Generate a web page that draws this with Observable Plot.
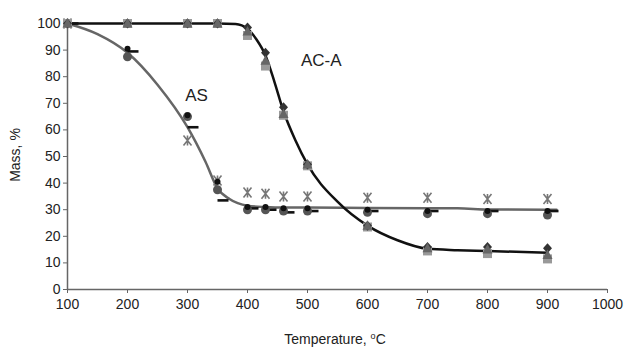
<!DOCTYPE html>
<html><head><meta charset="utf-8">
<script src="https://cdn.jsdelivr.net/npm/d3@7"></script>
<script src="https://cdn.jsdelivr.net/npm/@observablehq/plot@0.6"></script>
<style>body{margin:0;background:#fff;font-family:"Liberation Sans",Arial,sans-serif}</style>
</head><body><div id="chart"></div>
<script>
const temps = [100,200,300,350,400,430,460,500,600,700,800,900];
// AC-A markers
const acaDiamond = [100,100,100,100,98.5,89,68.5,47,24,16,16,15.5];
const acaSquare  = [100,100,100,100,95.5,84,65.5,46.5,23.5,14.5,13.5,11.5];
const acaTriangle= [100,100,100,100,97,86,66,47,24,15.5,15,13];
// AS markers
const asDot      = [100,90.5,65.5,40.5,31,31,30.5,30.5,30,29.5,29.5,29.5];
const asCircle   = [100,87.5,65,37.5,30,30,29.5,29.5,29,28.5,28.5,28];
const asDash     = [100,89.5,61,33.5,30.5,30,29,29.5,29.5,29.5,29.5,29.5];
const asStar     = [100,null,56,41,36.5,36,35,35,34.5,34.5,34,34];
// fitted curves
const acaCurveT = [100,200,300,350,380,400,415,430,445,460,480,500,550,600,650,700,750,800,900];
const acaCurveM = [100,100,100,100,99.8,98,94,88,78,67,56,47,33,24,18.5,15.3,14.8,14.5,13.8];
const asCurveT  = [100,150,200,250,300,330,350,370,400,430,460,500,600,700,750,800,900,915];
const asCurveM  = [100,96,89,77,61,48,38,34,31.5,31,30.8,30.8,30.6,30.5,30.5,30.1,30,30];
const xTicks = [100,200,300,400,500,600,700,800,900,1000];
const yTicks = [0,10,20,30,40,50,60,70,80,90,100];

const pts = (ys) => temps.map((t,i)=>({t, m: ys[i]})).filter(d=>d.m!=null);
const line = (ts, ms) => ts.map((t,i)=>({t, m: ms[i]}));

const dashSym = {draw(ctx, size){ ctx.moveTo(0,-1.3); ctx.lineTo(11,-1.3); ctx.lineTo(11,1.3); ctx.lineTo(0,1.3); ctx.closePath(); }};
const starSym = {draw(ctx, size){ const r=5; ctx.moveTo(-r*0.8,-r); ctx.lineTo(r*0.8,r); ctx.moveTo(r*0.8,-r); ctx.lineTo(-r*0.8,r); ctx.moveTo(0,-r); ctx.lineTo(0,r);}};
const circSym = {draw(ctx,size){ ctx.moveTo(4.5,0); ctx.arc(0,0,4.5,0,2*Math.PI); }};
const dotSym = {draw(ctx,size){ ctx.moveTo(3,0); ctx.arc(0,0,3,0,2*Math.PI); }};
const diaSym = {draw(ctx,size){ ctx.moveTo(0,-5); ctx.lineTo(4.5,0); ctx.lineTo(0,5); ctx.lineTo(-4.5,0); ctx.closePath(); }};
const sqSym = {draw(ctx,size){ ctx.rect(-4.5,-4.5,9,9); }};
const triSym = {draw(ctx,size){ ctx.moveTo(0,-5.5); ctx.lineTo(5,4); ctx.lineTo(-5,4); ctx.closePath(); }};

const chart = Plot.plot({
  width: 624, height: 347,
  marginLeft: 67, marginRight: 17, marginTop: 23, marginBottom: 58,
  style: {fontFamily: '"Liberation Sans", Arial, sans-serif', fontSize: "14px", color: "#222", background: "#fff"},
  x: {domain: [100,1000], label: null},
  y: {domain: [0,100], label: null},
  marks: [
    Plot.axisX({ticks: xTicks, tickFormat: d => String(d), tickSize: 4, tickPadding: 6, fontSize: 14, stroke: "#666"}),
    Plot.axisY({ticks: yTicks, tickFormat: d => String(d), tickSize: 4, tickPadding: 3, fontSize: 14, stroke: "#666"}),
    Plot.ruleX([100], {stroke: "#666", strokeWidth: 1.5}),
    Plot.ruleY([0], {stroke: "#666", strokeWidth: 1.5}),
    Plot.line(line(asCurveT, asCurveM), {x: "t", y: "m", stroke: "#666", strokeWidth: 2.5, curve: "monotone-x"}),
    Plot.line(line(acaCurveT, acaCurveM), {x: "t", y: "m", stroke: "#111", strokeWidth: 2.5, curve: "monotone-x"}),
    Plot.dot(pts(asStar), {x: "t", y: "m", symbol: starSym, stroke: "#777", strokeWidth: 1.6, fill: "none"}),
    Plot.dot(pts(asDash), {x: "t", y: "m", symbol: dashSym, fill: "#111", stroke: "none"}),
    Plot.dot(pts(asCircle), {x: "t", y: "m", symbol: circSym, fill: "#555", stroke: "none"}),
    Plot.dot(pts(asDot), {x: "t", y: "m", symbol: dotSym, fill: "#111", stroke: "none"}),
    Plot.dot(pts(acaSquare), {x: "t", y: "m", symbol: sqSym, fill: "#999", stroke: "none"}),
    Plot.dot(pts(acaDiamond), {x: "t", y: "m", symbol: diaSym, fill: "#333", stroke: "none"}),
    Plot.dot(pts(acaTriangle), {x: "t", y: "m", symbol: triSym, fill: "#666", stroke: "none"}),
    Plot.text([{t: 523, m: 86, s: "AC-A"}], {x: "t", y: "m", text: "s", fontSize: 17, fill: "#222", letterSpacing: "1.5px"}),
    Plot.text([{t: 315, m: 72.8, s: "AS"}], {x: "t", y: "m", text: "s", fontSize: 17, fill: "#222", letterSpacing: "1.5px"})
  ]
});
document.getElementById("chart").appendChild(chart);
const svg = d3.select(chart);
svg.append("text").attr("transform","translate(16,155) rotate(-90)").attr("text-anchor","middle")
  .attr("dominant-baseline","middle").attr("font-size",14).attr("fill","#222").text("Mass, %");
const xl = svg.append("text").attr("x",335).attr("y",344).attr("text-anchor","middle")
  .attr("font-size",14).attr("fill","#222");
xl.append("tspan").text("Temperature, ");
xl.append("tspan").attr("font-size",9).attr("dy",-5).text("o");
xl.append("tspan").attr("dy",5).text("C");
</script></body></html>
